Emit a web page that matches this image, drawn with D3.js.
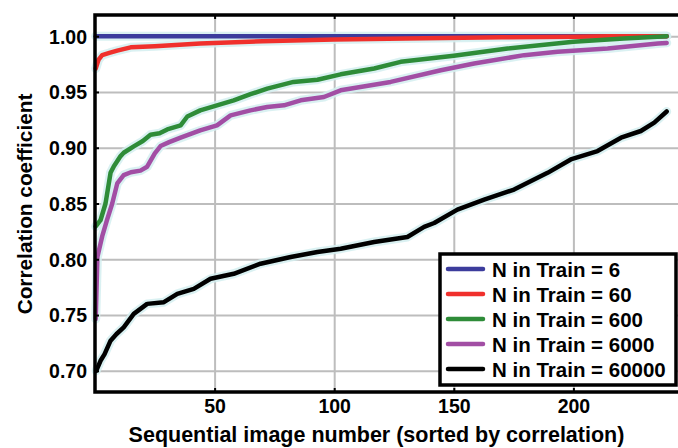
<!DOCTYPE html>
<html><head><meta charset="utf-8">
<script src="https://cdn.jsdelivr.net/npm/d3@7"></script>
<style>
html,body{margin:0;padding:0;background:#fff;overflow:hidden}
text{font-family:"Liberation Sans",Arial,sans-serif;font-weight:bold;fill:#000}
</style></head><body>
<svg id="c" width="678" height="448"></svg>
<script>
// ---- data ----
const xTicks = [50, 100, 150, 200];
const yTicks = [0.70, 0.75, 0.80, 0.85, 0.90, 0.95, 1.00];
const seriesNames = ["N in Train = 6", "N in Train = 60", "N in Train = 600", "N in Train = 6000", "N in Train = 60000"];
const seriesColors = ["#3c3c9c", "#f0302c", "#2e8c38", "#a24ea4", "#000000"];

const n6X = [0.3, 239];
const n6Y = [1.000, 1.000];

const n60X = [0.3, 1.5, 3, 6, 9.3, 14.9, 25, 44, 70, 100, 130, 170, 200, 215, 239];
const n60Y = [0.971, 0.979, 0.983, 0.985, 0.987, 0.990, 0.991, 0.9935, 0.9955, 0.997, 0.998, 0.999, 0.9995, 1.000, 1.000];

const n600X = [0.3, 2.3, 4.4, 6.5, 7.9, 10.7, 12, 16.2, 20, 23.2, 27, 30.2, 35.8, 38.6, 44, 51, 58, 65, 72, 83, 93, 102.7, 116.7, 127.8, 150, 172.5, 200, 221, 239];
const n600Y = [0.8295, 0.835, 0.850, 0.8775, 0.8835, 0.8925, 0.8955, 0.9012, 0.906, 0.9117, 0.913, 0.9164, 0.920, 0.928, 0.9335, 0.938, 0.9424, 0.948, 0.953, 0.959, 0.961, 0.9658, 0.971, 0.977, 0.9825, 0.989, 0.995, 0.998, 1.000];

const n6000X = [0.3, 1, 3, 5, 7.2, 9.3, 12, 15, 19, 21.8, 25, 27.4, 31, 35.8, 44, 51, 56.7, 65, 72, 79, 86, 95.7, 102.7, 123.6, 144.6, 158.5, 179.4, 193.4, 214.3, 235.3, 239];
const n6000Y = [0.7465, 0.802, 0.8205, 0.835, 0.850, 0.868, 0.8755, 0.878, 0.8795, 0.883, 0.895, 0.9015, 0.905, 0.909, 0.9155, 0.920, 0.929, 0.9335, 0.9365, 0.938, 0.9425, 0.9455, 0.9515, 0.959, 0.9695, 0.9755, 0.983, 0.986, 0.989, 0.9934, 0.994];

const n60000X = [0.5, 2.3, 4, 6.5, 9, 12, 16.2, 21.8, 28.8, 34.4, 41.3, 48.3, 58, 69.2, 81.8, 93, 102.7, 116.7, 130.6, 137.6, 141.8, 151.5, 162.7, 175.2, 189.2, 198.9, 210.1, 219.9, 228.2, 233.8, 239];
const n60000Y = [0.700, 0.709, 0.715, 0.727, 0.733, 0.739, 0.751, 0.760, 0.7615, 0.769, 0.7735, 0.7825, 0.787, 0.796, 0.802, 0.8065, 0.8095, 0.8155, 0.820, 0.829, 0.8325, 0.8445, 0.8535, 0.8625, 0.8775, 0.8895, 0.897, 0.909, 0.915, 0.9225, 0.9325];

const seriesX = [n6X, n60X, n600X, n6000X, n60000X];
const seriesY = [n6Y, n60Y, n600Y, n6000Y, n60000Y];

// ---- layout ----
const svg = d3.select("#c");
const L = 95, T = 15, B = 392, R = 693;
const x = d3.scaleLinear().domain([0, 250]).range([L, R]);
const y = d3.scaleLinear().domain([0.681, 1.019]).range([B, T]);

// gridlines
svg.append("g").attr("transform", `translate(0,${B})`)
  .call(d3.axisBottom(x).tickValues(xTicks).tickSize(-(B - T)).tickFormat(""))
  .call(g => g.select(".domain").remove())
  .call(g => g.selectAll("line").attr("stroke", "#bdbdbd").attr("stroke-width", 2));
svg.append("g").attr("transform", `translate(${L},0)`)
  .call(d3.axisLeft(y).tickValues(yTicks).tickSize(-(R - L)).tickFormat(""))
  .call(g => g.select(".domain").remove())
  .call(g => g.selectAll("line").attr("stroke", "#bdbdbd").attr("stroke-width", 2));

// lines
const line = d3.line().x(d => x(d[0])).y(d => y(d[1]));
const plot = svg.append("g");
seriesX.forEach((xs, i) => {
  const pts = xs.map((v, j) => [v, seriesY[i][j]]);
  plot.append("path").datum(pts).attr("d", line)
    .attr("fill", "none").attr("stroke", "#d3eff0").attr("stroke-width", 9)
    .attr("stroke-linejoin", "round").attr("stroke-linecap", "round").attr("opacity", 0.85);
});
seriesX.forEach((xs, i) => {
  const pts = xs.map((v, j) => [v, seriesY[i][j]]);
  plot.append("path").datum(pts).attr("d", line)
    .attr("fill", "none").attr("stroke", seriesColors[i]).attr("stroke-width", 4.5)
    .attr("stroke-linejoin", "round").attr("stroke-linecap", "round");
});

// axes with labels
const fs = 19.5;
const ax = svg.append("g").attr("transform", `translate(0,${B})`)
  .call(d3.axisBottom(x).tickValues(xTicks).tickSize(-4).tickFormat(d3.format("d")));
ax.select(".domain").remove();
ax.selectAll("line").attr("stroke", "#000").attr("stroke-width", 2);
ax.selectAll("text").attr("font-size", fs).attr("font-family", "Liberation Sans, Arial, sans-serif").attr("font-weight", "bold").attr("dy", null).attr("y", 21);

const ay = svg.append("g").attr("transform", `translate(${L},0)`)
  .call(d3.axisLeft(y).tickValues(yTicks).tickSize(-4).tickFormat(d3.format(".2f")));
ay.select(".domain").remove();
ay.selectAll("line").attr("stroke", "#000").attr("stroke-width", 2);
ay.selectAll("text").attr("font-size", fs).attr("font-family", "Liberation Sans, Arial, sans-serif").attr("font-weight", "bold").attr("x", -8).attr("dy", "0.35em");

// top ticks
const at = svg.append("g").attr("transform", `translate(0,${T})`)
  .call(d3.axisTop(x).tickValues(xTicks).tickSize(-4).tickFormat(""));
at.select(".domain").remove();
at.selectAll("line").attr("stroke", "#000").attr("stroke-width", 2);

// frame
svg.append("path").attr("d", `M${R},${T}H${L}V${B}H${R}`)
  .attr("fill", "none").attr("stroke", "#000").attr("stroke-width", 3.5);

// axis titles
svg.append("text").attr("x", 376.5).attr("y", 442).attr("text-anchor", "middle")
  .attr("font-size", 21.5).text("Sequential image number (sorted by correlation)");
svg.append("text").attr("transform", `translate(32,${204}) rotate(-90)`).attr("text-anchor", "middle")
  .attr("font-size", 20.8).text("Correlation coefficient");

// legend
const lg = svg.append("g");
lg.append("rect").attr("x", 440).attr("y", 254).attr("width", 236).attr("height", 131)
  .attr("fill", "#fff").attr("stroke", "#000").attr("stroke-width", 3.5);
seriesNames.forEach((nm, i) => {
  const cy = 269 + i * 25;
  lg.append("line").attr("x1", 448).attr("x2", 483).attr("y1", cy).attr("y2", cy)
    .attr("stroke", seriesColors[i]).attr("stroke-width", 4.5).attr("stroke-linecap", "round");
  lg.append("text").attr("x", 492).attr("y", cy + 7.5).attr("font-size", 20.5).text(nm);
});
</script>
</body></html>
